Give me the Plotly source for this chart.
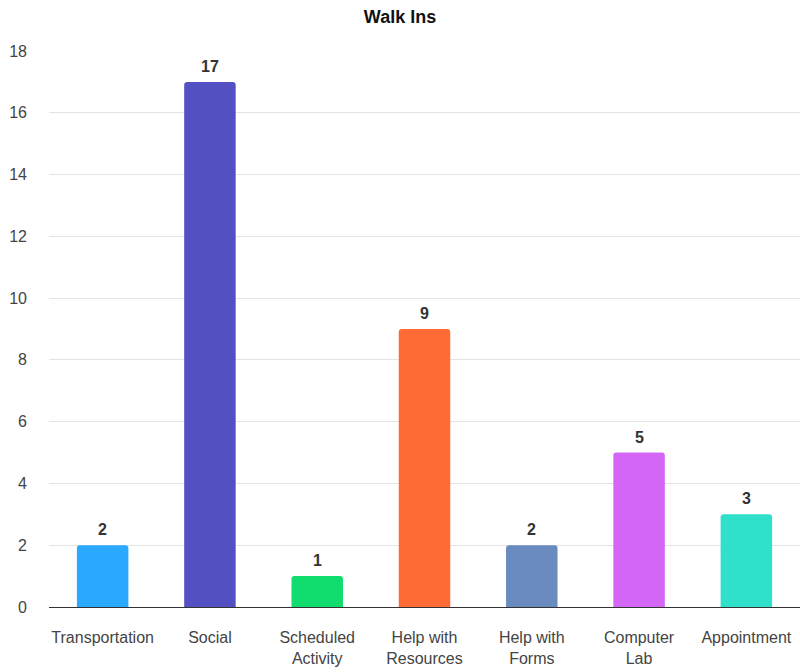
import plotly.graph_objects as go

categories = ["Transportation", "Social", "Scheduled<br>Activity", "Help with<br>Resources",
              "Help with<br>Forms", "Computer<br>Lab", "Appointment"]
values = [2, 17, 1, 9, 2, 5, 3]
colors = ["#2AA9FF", "#5350C4", "#10DD6E", "#FF6A35", "#6A8BBF", "#D366F5", "#2FE0CA"]
y_ticks = [0, 2, 4, 6, 8, 10, 12, 14, 16, 18]

FONT = "Liberation Sans, Arial, sans-serif"

fig = go.Figure(go.Bar(
    x=categories, y=values,
    marker=dict(color=colors, line=dict(width=0), cornerradius=3),
))

for c, v in zip(categories, values):
    fig.add_annotation(
        x=c, y=v, text=f"<b>{v}</b>", showarrow=False, yanchor="bottom", yshift=5,
        font=dict(family=FONT, size=16, color="#333333"),
    )

fig.update_layout(
    width=800, height=672,
    margin=dict(l=49, r=0, t=51, b=65),
    paper_bgcolor="white", plot_bgcolor="white",
    title=dict(text="<b>Walk Ins</b>", x=0.5, xanchor="center", y=1 - 17 / 672, yanchor="middle",
               font=dict(family=FONT, size=18, color="#111111")),
    bargap=0.52,
    showlegend=False,
    font=dict(family=FONT),
)
fig.update_xaxes(
    showgrid=False, showline=True, linecolor="#333333", linewidth=1,
    tickfont=dict(size=16, color="#444444"), ticks="", ticklabelstandoff=16,
)
fig.update_yaxes(
    range=[0, 18], tickvals=y_ticks, showgrid=True, gridcolor="#E3E3E3", gridwidth=1,
    zeroline=False, showline=False, ticks="", ticklabelstandoff=21,
    tickfont=dict(size=16, color="#444444"),
)

fig.write_html("out.html")
